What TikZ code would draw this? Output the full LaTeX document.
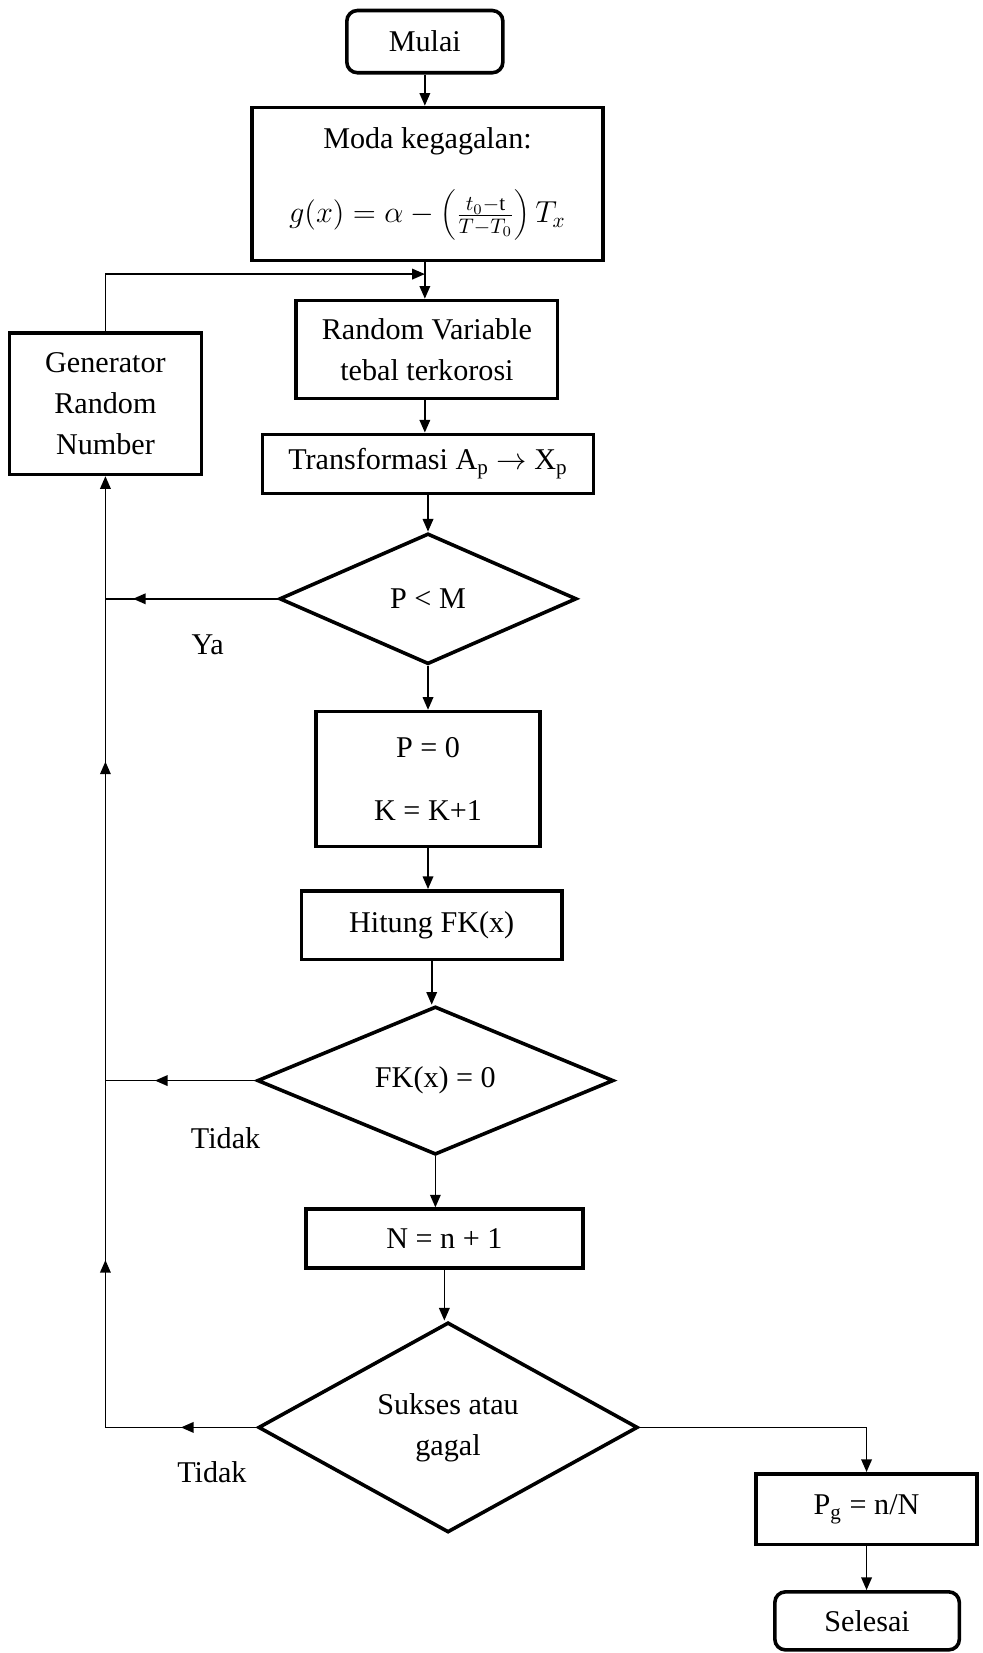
\documentclass[tikz,border=0pt]{standalone}
\usepackage{fontspec}
\setmainfont{Liberation Serif}
\usetikzlibrary{arrows.meta,shapes.geometric,decorations.markings}
\begin{document}
\begin{tikzpicture}[x=0.5pt,y=-0.5pt,
  every node/.style={font=\fontsize{14.3}{19.5}\selectfont, align=center, inner sep=0pt},
  box/.style={draw, line width=1.7pt, rectangle},
  term/.style={draw, line width=1.7pt, rectangle, rounded corners=5pt},
  dec/.style={draw, line width=1.7pt, diamond},
  conn/.style={line width=0.8pt},
  arr/.style={conn, -{Triangle[length=6pt,width=5pt]}},
  midarr/.style={conn, postaction={decorate}, decoration={markings, mark=at position #1 with {\arrow{Triangle[length=6pt,width=5pt]}}}},
]
\useasboundingbox[fill=white] (0,0) rectangle (932,1568);

\node[term, minimum width=74pt, minimum height=29.5pt] (start) at (403,39.5) {Mulai};
\node[box, minimum width=166.5pt, minimum height=72.5pt] (moda) at (405.5,174.5)
  {Moda kegagalan:\\[16pt] $g(x)=\alpha-\left(\frac{t_0-\mathrm{t}}{T-T_0}\right)T_x$};
\node[box, minimum width=124pt, minimum height=46.5pt] (rv) at (405,331.5) {Random Variable\\tebal terkorosi};
\node[box, minimum width=157pt, minimum height=28pt] (trans) at (406,440) {Transformasi A\textsubscript{p} $\rightarrow$ X\textsubscript{p}};
\node[dec, minimum width=141pt, minimum height=62pt] (d1) at (406,568) {P < M};
\node[box, minimum width=106pt, minimum height=64pt] (pk) at (406,739) {P = 0\\[10pt]K = K+1};
\node[box, minimum width=123.5pt, minimum height=32.5pt] (hit) at (409.5,877.5) {Hitung FK(x)};
\node[dec, minimum width=169pt, minimum height=65pt] (d2) at (413,1025) {FK(x) = 0};
\node[box, minimum width=131.5pt, minimum height=28pt] (nn) at (421.5,1175) {N = n + 1};
\node[dec, minimum width=180pt, minimum height=98pt] (d3) at (425,1354) {Sukses atau\\gagal};
\node[box, minimum width=105pt, minimum height=33.5pt] (pg) at (822,1431.5) {P\textsubscript{g} = n/N};
\node[term, minimum width=87.5pt, minimum height=27.5pt] (end) at (822.5,1537.5) {Selesai};
\node[box, minimum width=91pt, minimum height=67pt] (gen) at (100,383) {Generator\\Random\\Number};

\node (ya) at (197,612) {Ya};
\node (tidak1) at (214,1080) {Tidak};
\node (tidak2) at (201,1396) {Tidak};

\coordinate (tj) at (403,260);
\coordinate (j1) at (gen.south |- d1.west);
\coordinate (j2) at (gen.south |- d2.west);
\coordinate (j3) at (gen.south |- d3.west);

\draw[arr] (start.south) -- (start.south |- moda.north);
\draw[arr] (tj |- moda.south) -- (tj |- rv.north);
\draw[arr] (gen.north) |- (tj);
\draw[arr] (tj |- rv.south) -- (tj |- trans.north);
\draw[arr] (trans.south) -- (trans.south |- d1.north);
\draw[arr] (d1.south) -- (d1.south |- pk.north);
\draw[arr] (pk.south) -- (pk.south |- hit.north);
\draw[arr] (hit.south) -- (hit.south |- d2.north);
\draw[arr] (d2.south) -- (d2.south |- nn.north);
\draw[arr] (nn.south) -- (nn.south |- d3.north);
\draw[arr] (d3.east) -| (pg.north);
\draw[arr] (pg.south) -- (pg.south |- end.north);

\draw[midarr=0.84] (d1.west) -- (j1);
\draw[midarr=0.67] (d2.west) -- (j2);
\draw[midarr=0.5] (d3.west) -- (j3);
\draw[conn, -{Triangle[length=6pt,width=5pt]}, postaction={decorate}, decoration={markings,
  mark=at position 0.176 with {\arrow{Triangle[length=6pt,width=5pt]}},
  mark=at position 0.70 with {\arrow{Triangle[length=6pt,width=5pt]}}}] (j3) -- (gen.south);
\end{tikzpicture}
\end{document}
